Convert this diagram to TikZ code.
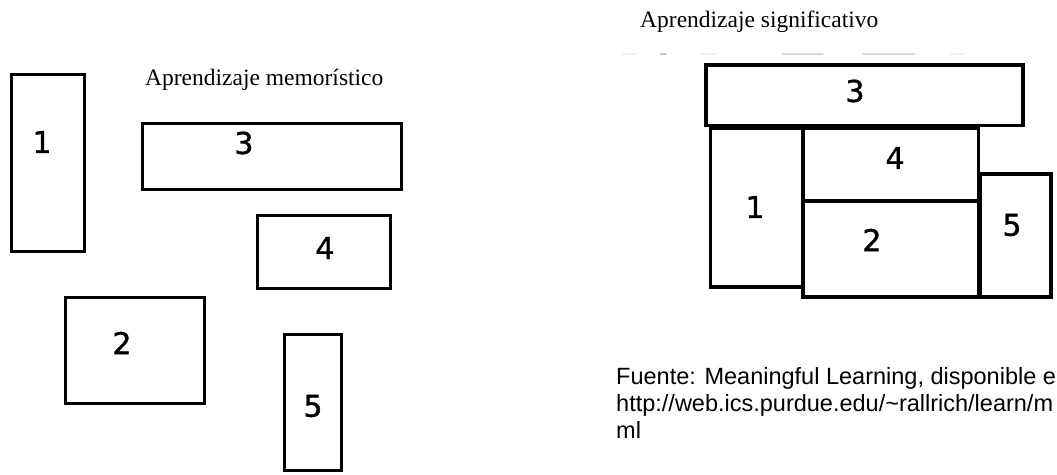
\documentclass[tikz,border=0pt]{standalone}
\usepackage{fontspec}
\setmainfont{Liberation Serif}
\newfontfamily\digitfont[FakeBold=1.2]{DejaVu Sans}
\newfontfamily\srcfont{Liberation Sans}
\begin{document}
\begin{tikzpicture}[x=1pt,y=-1pt,
  blockL/.style={draw=black,line width=3.2pt,rectangle,inner sep=0pt,outer sep=0pt},
  blockR/.style={draw=black,line width=3.8pt,rectangle,inner sep=0pt,outer sep=0pt},
  digit/.style={inner sep=0pt,font=\digitfont\fontsize{30}{30}\selectfont},
  title/.style={inner sep=0pt,anchor=base west,font=\fontsize{23.5}{27}\selectfont},
  src/.style={inner sep=0pt,anchor=base west,font=\srcfont\fontsize{23.5}{27}\selectfont},
  smudge/.style={line width=1.2pt,line cap=round}]
\useasboundingbox (0,0) rectangle (1057,474);

% left group: loose pieces
\node[title] (tl) at (145,85) {Aprendizaje memorístico};
\node[blockL,minimum width=72.8pt,minimum height=176.8pt] (l1) at (48,163) {};
\node[blockL,minimum width=258.8pt,minimum height=65.8pt] (l3) at (272,156.5) {};
\node[blockL,minimum width=132.8pt,minimum height=72.8pt] (l4) at (324,252) {};
\node[blockL,minimum width=138.8pt,minimum height=105.8pt] (l2) at (135,350.5) {};
\node[blockL,minimum width=56.8pt,minimum height=135.8pt] (l5) at (313,402.5) {};
\node[digit] (nl1) at (42,142) {1};
\node[digit] (nl3) at (244,143) {3};
\node[digit] (nl4) at (325,248) {4};
\node[digit] (nl2) at (122,343) {2};
\node[digit] (nl5) at (313,406) {5};

% right group: pieces fitted together, sharing their edges
\node[title] (tr) at (640,27) {Aprendizaje significativo};
\draw[smudge,gray!12] (622,54) -- (637,54) (700,54) -- (717,54) (950,54) -- (965,54);
\draw[smudge,gray!45] (660,54) -- (666,54);
\draw[smudge,gray!30] (782,54) -- (823,54) (863,54) -- (915,54);
\node[blockR,minimum width=317pt,minimum height=60.5pt] (r3) at (864.5,95.25) {};
\node[blockR,minimum width=92.5pt,minimum height=159pt] (r1) at (756.75,207.5) {};
\node[blockR,minimum width=175.5pt,minimum height=73pt] (r4) at (890.75,164.5) {};
\node[blockR,minimum width=175.5pt,minimum height=96pt] (r2) at (890.75,249) {};
\node[blockR,minimum width=71pt,minimum height=123pt] (r5) at (1015.5,235.5) {};
\node[digit] (nr3) at (855,91) {3};
\node[digit] (nr4) at (895,158) {4};
\node[digit] (nr1) at (755,207) {1};
\node[digit] (nr2) at (872,240) {2};
\node[digit] (nr5) at (1012,225) {5};

% source note
\node[src] (s1) at (616,384) {Fuente: Meaningful Learning, disponible e};
\node[src] (s2) at (616,411) {http://web.ics.purdue.edu/{\char`\~}rallrich/learn/m};
\node[src] (s3) at (616,438) {ml};
\end{tikzpicture}
\end{document}
